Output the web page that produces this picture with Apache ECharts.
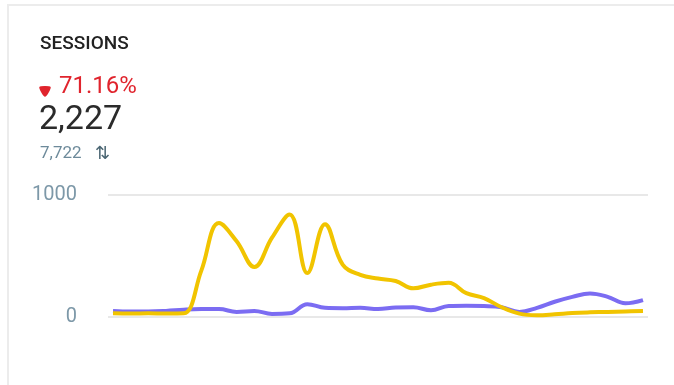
<!DOCTYPE html>
<html>
<head>
<meta charset="utf-8">
<script src="https://cdn.jsdelivr.net/npm/echarts@6/dist/echarts.min.js"></script>
<style>
html,body{margin:0;padding:0;background:#fff;}
#c{width:674px;height:385px;}
</style>
</head>
<body>
<div id="c"></div>
<script>
const days = Array.from({length: 31}, (_, i) => String(i + 1));
const previousPeriod = [30,28,30,28,30,380,770,620,410,650,840,360,760,430,345,315,295,235,265,280,195,155,80,28,15,22,32,38,42,46,50];
const currentPeriod = [50,45,45,50,60,65,65,42,50,25,30,105,75,72,75,65,78,80,55,90,92,90,80,42,75,125,165,193,165,112,138];
const yTicks = [0, 1000];
const title = 'SESSIONS';
const changeText = '71.16%';
const currentTotal = '2,227';
const previousTotal = '7,722';

const toPairs = arr => arr.map((v, i) => [i, v]);

const chart = echarts.init(document.getElementById('c'));
chart.setOption({
  animation: false,
  grid: {left: 108, right: 26, top: 195, height: 122},
  xAxis: {
    type: 'value', min: -0.283, max: days.length - 1 + 0.283,
    axisLine: {show: false}, axisTick: {show: false}, axisLabel: {show: false},
    splitLine: {show: false}
  },
  yAxis: {
    type: 'value', min: yTicks[0], max: yTicks[1], interval: 1000,
    axisLine: {show: false}, axisTick: {show: false},
    axisLabel: {color: '#7d98a8', fontSize: 20, fontFamily: 'Roboto', margin: 31,
      formatter: v => String(v)},
    splitLine: {lineStyle: {color: '#e8e8e8', width: 2}}
  },
  series: [
    {type: 'line', data: toPairs(currentPeriod), smooth: 0.4, showSymbol: false, z: 2,
     lineStyle: {color: '#7b6cf2', width: 4}},
    {type: 'line', data: toPairs(previousPeriod), smooth: 0.4, showSymbol: false, z: 3,
     lineStyle: {color: '#f1c400', width: 4}}
  ],
  graphic: [
    {type: 'rect', shape: {x: 8, y: 5, width: 700, height: 420},
     style: {fill: 'none', stroke: '#ececec', lineWidth: 2}, silent: true},
    {type: 'text', x: 40, y: 35,
     style: {text: title, fill: '#222', font: '500 19px Roboto'}},
    {type: 'polygon', shape: {points: [[40,87.5],[50,87.5],[45,96]], smooth: 0.2},
     style: {fill: '#e0242d', stroke: '#e0242d', lineWidth: 1.5, lineJoin: 'round'}},
    {type: 'text', x: 59, y: 75,
     style: {text: changeText, fill: '#e0242d', font: '24px Roboto'}},
    {type: 'text', x: 39, y: 103,
     style: {text: currentTotal, fill: '#2b2b2b', font: '34px Roboto'}},
    {type: 'text', x: 40, y: 145,
     style: {text: previousTotal, fill: '#6d8a9a', font: '17px Roboto'}},
    {type: 'text', x: 95, y: 145,
     style: {text: '⇅', fill: '#4a6572', font: '18px DejaVu Sans'}}
  ]
});
</script>
</body>
</html>
